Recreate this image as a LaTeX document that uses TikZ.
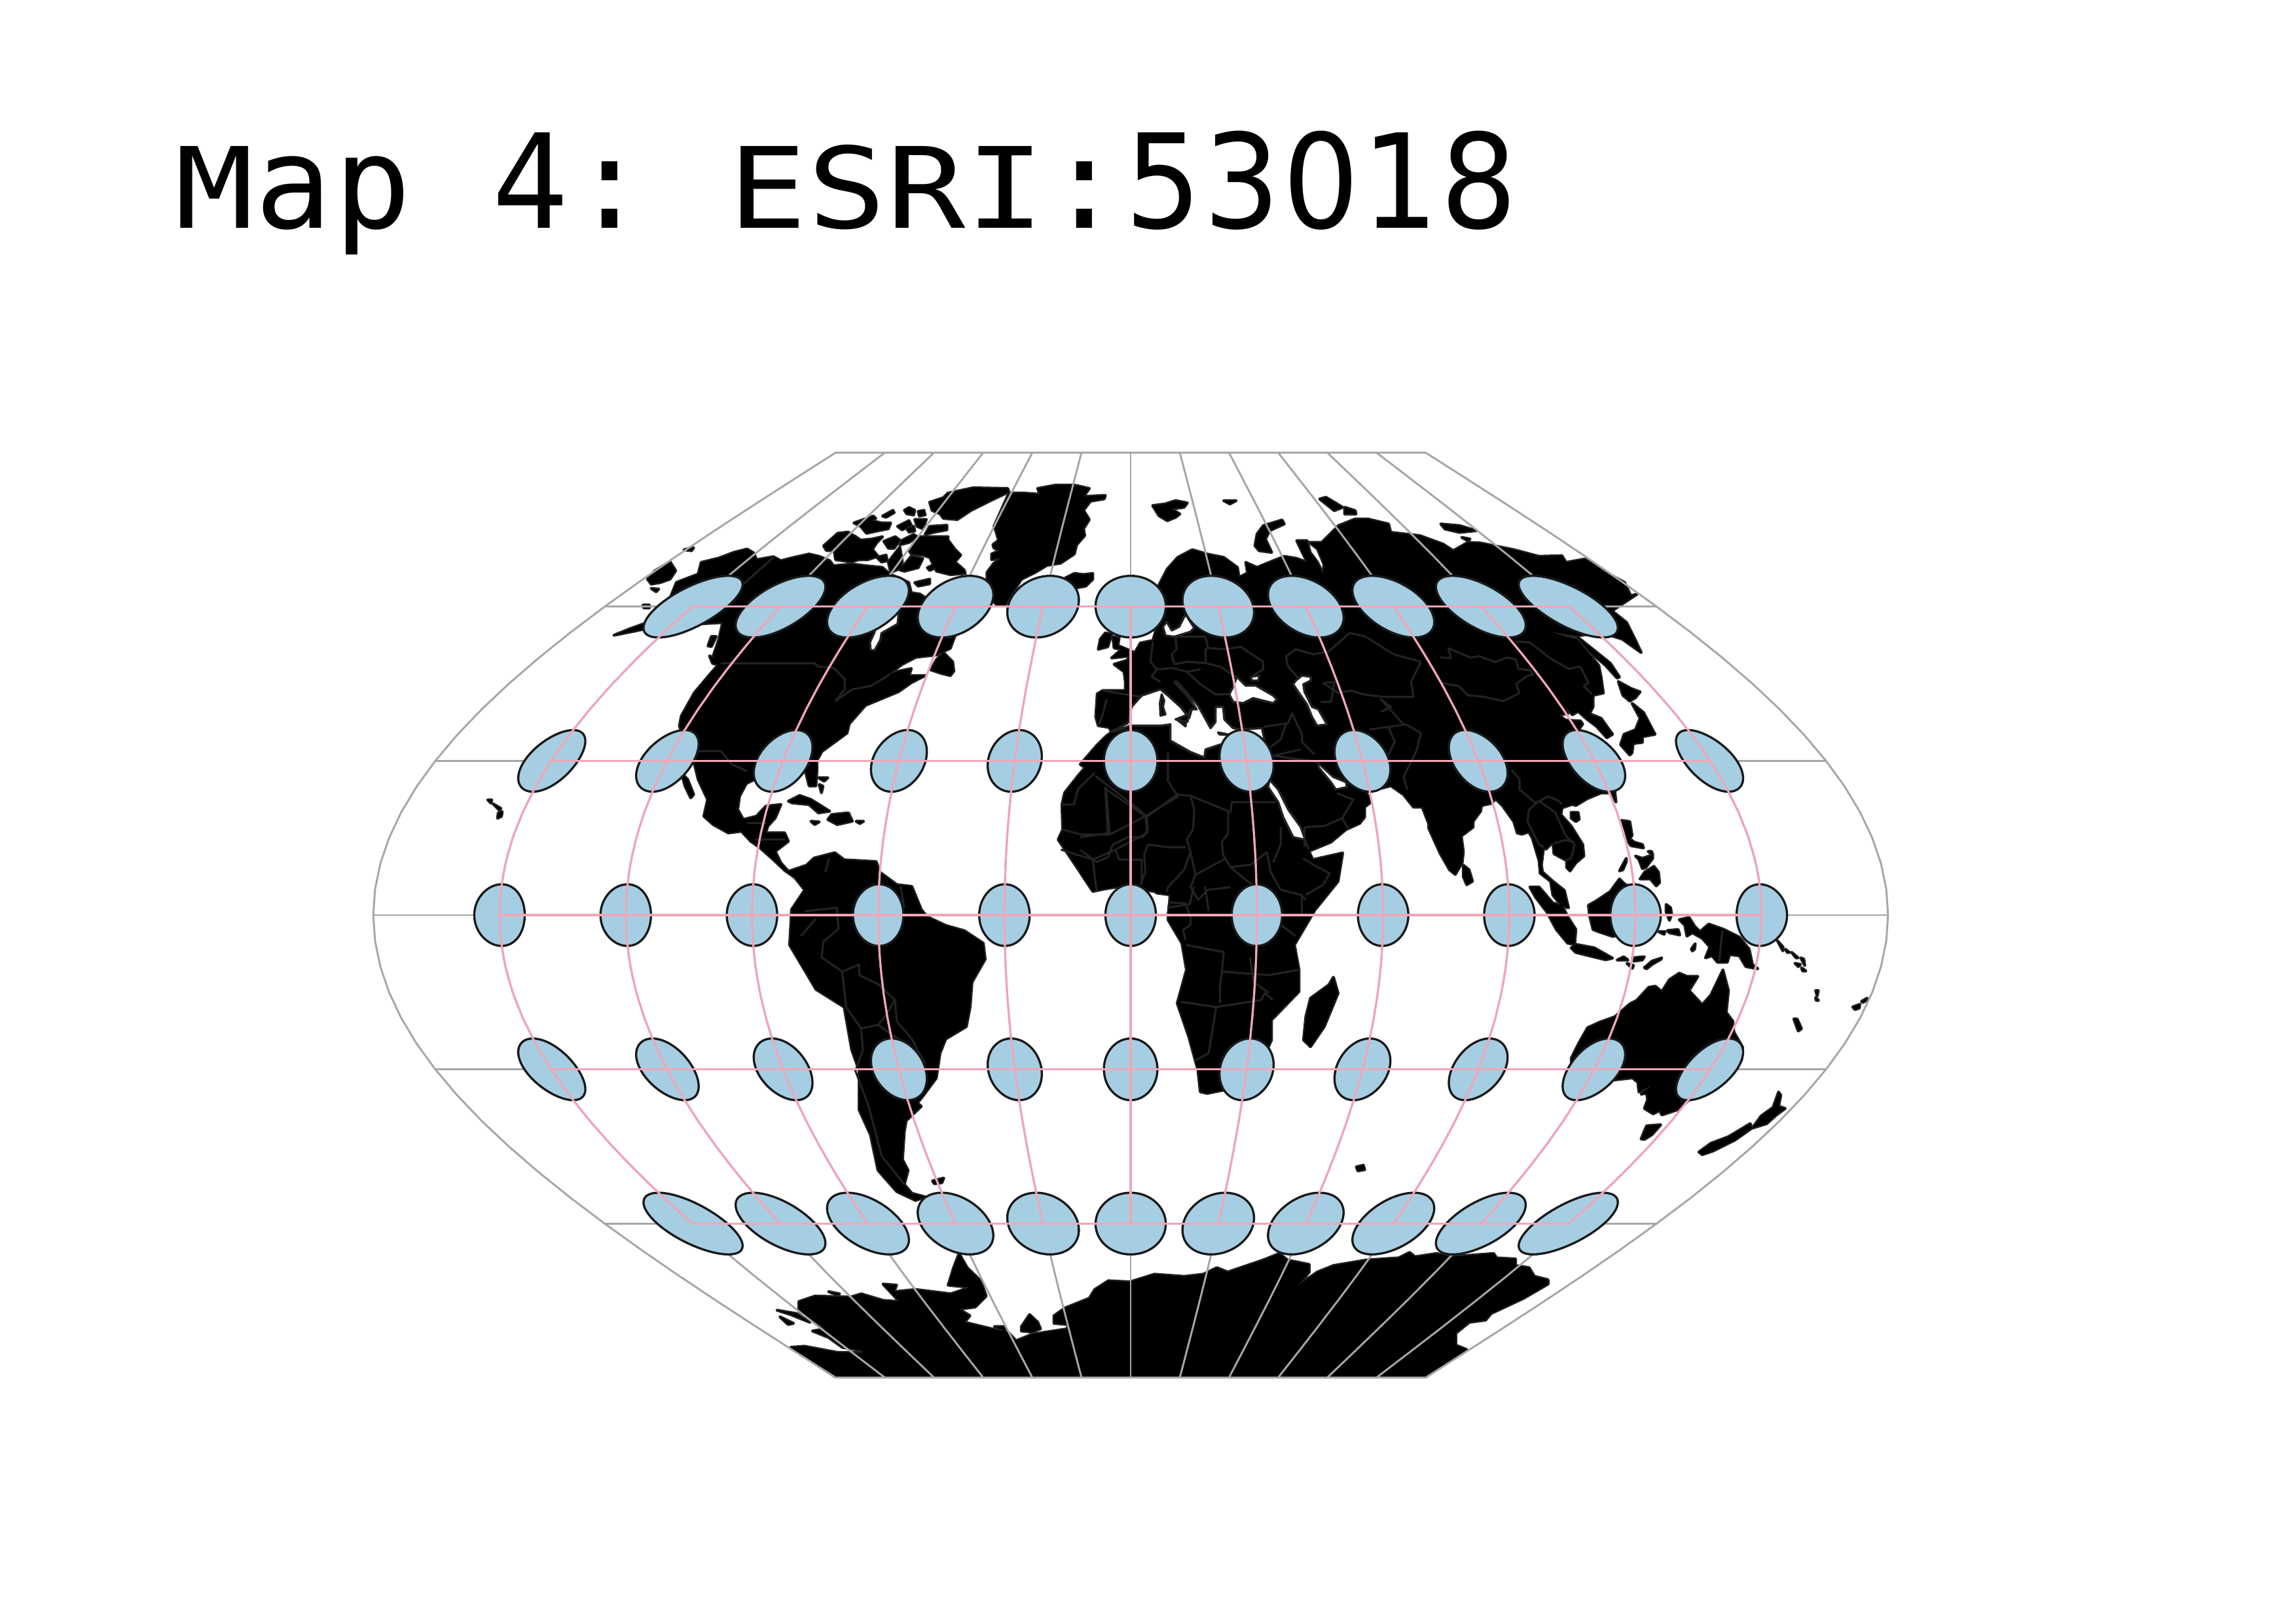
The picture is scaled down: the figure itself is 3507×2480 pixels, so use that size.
\documentclass[tikz,border=0pt]{standalone}
\usepackage{graphicx}
\usepackage{fontspec}
\newfontfamily\tmono{DejaVu Sans Mono}
\newfontfamily\tsans{DejaVu Sans}
\definecolor{edgec}{HTML}{222222}
\definecolor{grayg}{HTML}{A6A6A8}
\definecolor{pinkg}{HTML}{F0A6B6}
\definecolor{tissot}{HTML}{A6CEE3}
\newcommand{\ttcap}[1]{\makebox[28.97pt][c]{\scalebox{1}[0.857]{\fontsize{48}{48}\selectfont\tmono #1}}}
\newcommand{\ttlow}[1]{\makebox[28.97pt][c]{\fontsize{47}{47}\selectfont\tmono #1}}
\newcommand{\ttdig}[1]{\makebox[28.97pt][c]{\scalebox{0.92}[1]{\fontsize{48}{48}\selectfont\tsans #1}}}
\newcommand{\ttsp}{\hspace*{28.97pt}}
\newcommand{\lpoly}[1]{\path[lnd] plot coordinates {#1} -- cycle;}
\newcommand{\spoly}[1]{\path[seafill] plot coordinates {#1} -- cycle;}
\newcommand{\bline}[1]{\draw[bord] plot coordinates {#1};}
\tikzset{
 zA/.style={shift={(900,650)},xscale=.574,yscale=.5102},
 zB/.style={shift={(1700,650)},xscale=.6378,yscale=.5102},
 zC/.style={shift={(1100,1300)},xscale=.574,yscale=.542},
 zD/.style={shift={(1700,1150)},xscale=.7015,yscale=.5102},
 zE/.style={shift={(1100,1800)},xscale=.8292,yscale=.3333},
 zF/.style={shift={(2400,1300)},xscale=.3333,yscale=.3333},
 zH/.style={shift={(1650,900)},xscale=.3827,yscale=.3827},
 zI/.style={shift={(1150,720)},xscale=.3507,yscale=.3507},
 zJ/.style={shift={(2200,950)},xscale=.3507,yscale=.3507},
 seafill/.style={fill=white,draw=edgec,line width=.8pt,line join=round},
 islet/.style={fill=black,draw=edgec,line width=.8pt,line join=round},
 bord/.style={draw=edgec,line width=.75pt,line join=round},
 grayline/.style={draw=grayg,line width=.7pt,line join=round},
 pinkline/.style={draw=pinkg,line width=.75pt,line join=round},
 tis/.style={fill=tissot,draw=black!90,line width=.8pt,line join=round}
}
\newcommand{\landall}{%
\begin{scope}[zA]
\lpoly{(66,628) (110,608) (150,592) (200,560) (232,470) (290,445) (298,410) (345,397) (385,380) (420,370) (438,382) (445,402) (490,393) (510,405) (545,395) (585,385) (612,392) (640,405) (650,420) (700,415) (735,420) (780,425) (800,445) (850,470) (857,501) (880,505) (900,520) (1000,560) (970,639) (961,667) (924,687) (869,694) (833,715) (796,746) (826,735) (857,728) (851,749) (894,749) (857,770) (823,797) (778,818) (735,838) (692,893) (686,921) (619,976) (606,1003) (606,1031) (603,1079) (585,1079) (576,1038) (560,1040) (500,1040) (440,1060) (418,1072) (400,1110) (395,1150) (410,1180) (445,1170) (470,1140) (510,1135) (495,1175) (475,1200) (470,1220) (520,1220) (530,1245) (495,1275) (510,1310) (530,1335) (575,1318) (580,1335) (545,1352) (520,1332) (490,1300) (455,1265) (430,1245) (405,1215) (370,1220) (330,1195) (305,1170) (315,1120) (290,1060) (278,1005) (240,900) (245,870) (280,800) (325,740) (345,715) (330,690) (345,640) (355,590) (200,600) (145,610)}
\lpoly{(245,1040) (262,1060) (278,1105) (270,1115) (255,1080)}
\lpoly{(155,460) (175,435) (215,408) (230,435) (215,460) (190,470) (165,475)}
\lpoly{(165,488) (185,490) (178,498)}
\lpoly{(252,372) (278,366) (272,375)}
\lpoly{(143,538) (160,538) (160,546) (145,546)}
\lpoly{(320,690) (338,700) (345,718) (328,712)}
\lpoly{(316,660) (325,632) (338,632) (325,662)}
\lpoly{(530,1125) (560,1108) (590,1120) (640,1155) (610,1160) (585,1135) (540,1130)}
\lpoly{(645,1165) (690,1160) (700,1185) (660,1195) (635,1180)}
\lpoly{(590,1185) (612,1187) (600,1195)}
\lpoly{(710,1185) (730,1185) (720,1192)}
\lpoly{(610,1055) (635,1055) (625,1065)}
\lpoly{(612,1075) (622,1080) (618,1100)}
\lpoly{(1380,950) (1345,990) (1300,1050) (1265,1100) (1258,1135) (1260,1210) (1248,1240) (1290,1310) (1340,1395) (1370,1388) (1440,1375) (1490,1378) (1510,1400) (1545,1405) (1545,1420) (1540,1470) (1568,1470) (1568,900) (1440,900)}
\end{scope}
\begin{scope}[zI]
\lpoly{(308,325) (370,270) (415,265) (445,285) (440,300) (395,320) (345,345) (320,345)}
\lpoly{(355,350) (440,280) (470,300) (520,295) (565,285) (540,310) (520,340) (545,370) (500,385) (460,385) (430,395) (360,385)}
\lpoly{(440,225) (525,195) (535,205) (470,240)}
\lpoly{(470,240) (520,215) (560,225) (600,225) (590,250) (540,260) (495,270)}
\lpoly{(565,195) (610,170) (615,180) (580,200)}
\lpoly{(660,170) (680,158) (705,170) (700,190) (670,185)}
\lpoly{(720,175) (745,170) (750,190) (725,195)}
\lpoly{(630,240) (680,215) (690,235) (650,255)}
\lpoly{(670,250) (700,240) (705,260) (680,265)}
\lpoly{(705,210) (755,210) (740,250) (715,240)}
\lpoly{(770,240) (845,235) (845,255) (790,265) (750,275)}
\lpoly{(770,135) (830,115) (850,95) (960,72) (1110,75) (1115,90) (1040,125) (950,170) (890,210) (830,205) (815,185) (780,170)}
\lpoly{(570,305) (620,285) (640,300) (615,335) (590,335)}
\lpoly{(650,300) (700,275) (715,285) (680,310) (640,320)}
\lpoly{(680,345) (720,285) (790,285) (850,285) (850,300) (880,340) (905,365) (880,395) (920,430) (925,445) (860,450) (800,435) (770,375) (740,365) (690,360)}
\lpoly{(640,430) (690,370) (740,380) (720,420) (660,435)}
\lpoly{(760,420) (790,405) (795,420) (770,432)}
\lpoly{(540,375) (580,365) (585,390) (560,395)}
\lpoly{(590,395) (640,330) (650,390) (650,420) (600,440)}
\lpoly{(705,485) (770,470) (770,490) (720,500)}
\lpoly{(830,790) (870,830) (875,870) (860,890) (820,880) (775,865) (800,820)}
\lpoly{(1050,240) (1115,95) (1180,95) (1250,100) (1240,75) (1320,60) (1400,60) (1465,75) (1440,110) (1535,105) (1530,120) (1470,130) (1440,170) (1465,210) (1440,250) (1445,280) (1410,320) (1400,360) (1340,400) (1280,410) (1230,440) (1170,470) (1130,530) (1100,580) (1065,585) (1040,560) (1020,470) (1020,440) (1050,400) (1085,375) (1040,385) (1040,360) (1075,345) (1050,335) (1045,320) (1070,300) (1055,250)}
\lpoly{(1360,465) (1400,445) (1440,450) (1480,445) (1480,470) (1450,500) (1395,510) (1385,480)}
\end{scope}
\begin{scope}[zB]
\lpoly{(95,240) (125,235) (150,225) (178,232) (170,245) (140,250) (160,265) (150,275) (130,285) (110,270)}
\lpoly{(265,225) (295,225) (280,235)}
\lpoly{(340,360) (345,325) (360,300) (405,283) (410,295) (375,315) (365,340) (380,380) (350,375)}
\lpoly{(495,220) (510,215) (550,245) (530,255)}
\lpoly{(555,245) (580,255) (582,265) (555,265)}
\lpoly{(785,295) (830,300) (870,315) (830,320) (795,310)}
\lpoly{(835,335) (855,340) (850,345)}
\lpoly{(105,490) (130,430) (155,395) (190,372) (225,385) (265,395) (298,425) (302,455) (340,430) (322,440) (318,410) (345,425) (370,412) (410,392) (440,398) (465,410) (440,345) (465,345) (472,380) (490,410) (503,445) (505,415) (490,370) (470,350) (500,350) (520,325) (540,300) (580,280) (610,280) (660,295) (665,320) (735,330) (790,355) (815,375) (850,350) (880,352) (960,372) (1020,392) (1075,390) (1085,410) (1130,400) (1180,440) (1225,470) (1240,510) (1255,505) (1225,530) (1195,555) (1230,590) (1250,640) (1265,680) (1220,640) (1170,620) (1110,630) (1052,618) (1052,800) (500,800) (120,620)}
\end{scope}
\begin{scope}[zJ]
\lpoly{(400,0) (490,0) (488,45) (545,65) (595,75) (640,130) (690,190) (700,240) (710,310) (665,320) (665,370) (650,400) (700,420) (750,490) (725,505) (680,455) (640,425) (600,390) (575,405) (545,370) (555,400) (515,405) (545,428) (610,432) (620,445) (595,480) (760,740) (765,785) (745,745) (700,745) (640,770) (590,800) (575,795) (530,810) (525,840) (570,890) (620,970) (625,1020) (590,1050) (565,1085) (550,1070) (550,1040) (495,1010) (490,960) (460,990) (450,980) (440,1060) (445,1090) (490,1130) (540,1170) (558,1245) (530,1240) (490,1190) (480,1130) (435,1095) (430,1040) (400,940) (385,915) (355,925) (335,920) (320,870) (270,800) (240,770) (225,790) (180,800) (175,825) (120,900) (90,925) (100,1000) (95,1050) (65,1100) (40,1080) (0,1010) (-50,900) (-50,0)}
\lpoly{(590,60) (640,100) (740,180) (780,240) (770,245) (720,190) (650,130)}
\lpoly{(775,260) (830,290) (870,305) (850,330) (825,345) (795,320)}
\lpoly{(835,355) (885,395) (935,490) (880,500) (880,525) (840,530) (835,570) (825,580) (785,535) (800,490) (850,470) (870,420)}
\lpoly{(570,830) (600,830) (605,860) (590,870) (570,855)}
\lpoly{(645,1235) (680,1215) (740,1175) (780,1120) (800,1140) (900,1200) (900,1350) (750,1370) (690,1350) (665,1340) (650,1280)}
\lpoly{(390,1155) (430,1155) (490,1225) (530,1235) (555,1285) (590,1340) (585,1405) (555,1400) (505,1340) (465,1265) (415,1200)}
\lpoly{(570,1420) (590,1405) (670,1420) (750,1465) (720,1472) (650,1455) (590,1440)}
\lpoly{(790,865) (825,870) (835,930) (825,945) (845,960) (880,970) (885,985) (830,975) (805,940)}
\lpoly{(850,1020) (880,1030) (925,1015) (925,1030) (895,1070) (880,1075) (865,1035)}
\lpoly{(905,1000) (920,1000) (925,1015)}
\lpoly{(780,1085) (810,1030) (810,1045) (795,1080)}
\lpoly{(870,1120) (890,1090) (930,1065) (950,1090) (955,1135) (940,1150) (915,1120) (880,1120)}
\lpoly{(100,1060) (125,1080) (140,1130) (115,1145) (100,1110)}
\end{scope}
\begin{scope}[zH]
\lpoly{(300,170) (290,205) (240,215) (220,250) (185,285) (135,300) (175,330) (180,370) (180,405) (90,405) (68,418) (62,510) (72,545) (115,552) (125,570) (100,590) (65,625) (0,700) (500,1000) (915,1045) (1000,1010) (1060,960) (1115,935) (1135,910) (1135,870) (1160,850) (1140,810) (1240,785) (1290,820) (1330,870) (1365,870) (1400,960) (1440,1050) (1495,1135) (1520,1080) (1515,990) (1568,950) (1568,0) (340,0) (330,110)}
\lpoly{(130,190) (155,195) (150,225) (210,250) (215,265) (125,275) (165,240) (135,235)}
\lpoly{(100,175) (125,180) (110,230) (72,240) (80,200)}
\end{scope}
\begin{scope}[zD]
\lpoly{(0,400) (90,415) (125,425) (120,500) (150,570) (160,650) (140,750) (165,850) (185,950) (190,1015) (205,1020) (240,1010) (300,1000) (345,860) (345,800) (405,715) (405,650) (395,575) (440,470) (490,385) (500,300) (435,320) (425,290) (400,250) (380,220) (345,90) (345,0) (0,0)}
\lpoly{(480,672) (490,720) (460,820) (430,880) (415,860) (420,790) (430,735) (470,695)}
\lpoly{(530,1240) (545,1235) (548,1248) (533,1252)}
\end{scope}
\begin{scope}[zC]
\lpoly{(195,70) (225,45) (250,20) (305,5) (330,25) (415,30) (425,60) (470,95) (510,100) (535,165) (550,185) (600,210) (650,225) (700,260) (705,305) (670,370) (665,440) (655,495) (600,530) (585,570) (575,640) (540,690) (525,710) (535,720) (495,760) (490,790) (485,870) (500,900) (490,940) (510,965) (545,975) (520,985) (470,960) (420,900) (410,850) (400,800) (370,730) (370,620) (350,560) (330,440) (255,390) (185,265) (190,165) (225,110)}
\lpoly{(565,930) (595,922) (590,935) (570,938)}
\end{scope}
\begin{scope}[zE]
\lpoly{(130,775) (155,770) (215,798) (262,800) (262,790) (225,775) (200,730) (170,700) (195,690) (145,610) (145,565) (175,540) (240,545) (260,530) (300,560) (330,565) (300,485) (325,490) (320,520) (360,510) (425,530) (460,500) (420,490) (430,410) (440,345) (455,410) (480,470) (490,540) (470,590) (440,600) (460,630) (450,660) (500,690) (530,705) (545,745) (575,715) (640,690) (640,670) (615,665) (615,630) (635,595) (680,550) (690,510) (715,470) (755,475) (800,440) (855,450) (890,440) (915,410) (935,430) (1000,375) (1030,345) (1045,375) (1085,395) (1085,430) (1065,490) (1100,430) (1130,400) (1190,375) (1250,365) (1270,340) (1280,360) (1320,345) (1345,360) (1425,345) (1430,365) (1465,370) (1465,400) (1490,410) (1500,450) (1525,465) (1525,485) (1480,550) (1420,620) (1410,650) (1380,660) (1355,710) (1355,765) (1375,785) (1300,910) (212,910)}
\lpoly{(555,680) (570,625) (585,660) (590,690) (575,705) (555,700)}
\lpoly{(505,680) (525,680) (525,700)}
\lpoly{(105,605) (140,620) (165,660) (130,625)}
\lpoly{(110,635) (135,665) (125,670)}
\lpoly{(200,520) (220,530) (215,535)}
\end{scope}
\begin{scope}[zF]
\lpoly{(830,1270) (870,1215) (925,1175) (950,1105) (960,1120) (950,1170) (980,1180) (940,1210) (895,1250)}
\lpoly{(585,1380) (640,1340) (720,1310) (820,1250) (828,1270) (750,1325) (650,1375) (600,1392)}
\lpoly{(320,1320) (345,1260) (410,1255) (370,1300) (335,1322)}
\lpoly{(495,315) (540,305) (565,345) (590,370) (630,335) (700,360) (770,395) (815,450) (830,520) (855,540) (800,530) (770,480) (725,475) (715,510) (670,510) (645,480) (615,490) (635,440) (600,400) (555,375) (530,390) (520,340)}
\lpoly{(35,880) (75,810) (130,785) (200,760) (270,700) (300,685) (355,625) (385,620) (415,645) (450,590) (495,560) (530,575) (580,575) (540,640) (600,705) (640,660) (695,545) (720,640) (710,740) (740,780) (745,830) (785,900) (780,960) (680,1050) (540,1140) (490,1185) (415,1210) (405,1190) (375,1205) (335,1180) (350,1140) (345,1110) (320,1115) (375,1070) (310,1105) (305,1060) (280,1040) (190,1050) (100,1100) (0,1130) (0,950)}
\lpoly{(210,500) (240,485) (260,500)}
\lpoly{(280,490) (335,485) (325,500) (285,505)}
\lpoly{(255,515) (285,525) (280,538)}
\lpoly{(335,535) (370,505) (415,490) (410,497) (370,520) (345,540)}
\lpoly{(400,370) (430,370) (425,382)}
\lpoly{(440,365) (490,360) (497,385) (450,375)}
\lpoly{(435,245) (455,260) (460,290) (450,318) (435,280)}
\lpoly{(550,450) (568,425) (565,450) (555,458)}
\lpoly{(945,412) (970,440) (970,458)}
\lpoly{(980,450) (1000,465) (990,465)}
\lpoly{(1010,465) (1040,490) (1030,490)}
\lpoly{(1052,490) (1065,495) (1070,525)}
\lpoly{(1025,515) (1050,520) (1040,530)}
\lpoly{(1055,535) (1075,550) (1060,550)}
\lpoly{(1120,640) (1132,640) (1127,665)}
\lpoly{(1120,672) (1133,685) (1122,685)}
\lpoly{(1020,770) (1035,770) (1055,815) (1040,825)}
\lpoly{(1290,715) (1322,703) (1320,720) (1300,727)}
\lpoly{(1330,690) (1355,675) (1360,680) (1335,695)}
\end{scope}
\lpoly{(745,1222) (751,1222) (750,1227)}
\lpoly{(753,1228) (765,1235) (763,1238)}
\lpoly{(761,1242) (767,1240) (766,1247) (760,1250)}
}
\begin{document}
\begin{tikzpicture}[x=0.24pt,y=-0.24pt,
 declare function={
  wlat(\p,\t)=asin(sin(\p)*cos(6)+cos(\p)*sin(6)*cos(\t));
  wlon(\l,\p,\t)=\l+atan2(sin(\t)*sin(6)*cos(\p),cos(6)-sin(\p)*sin(wlat(\p,\t)));
  winx(\l,\f)=450*(\l/57.29578)*(0.63662+cos(\f))/2;
  winy(\f)=1398-450*(\f/57.29578);
 }]
\useasboundingbox (0,0) rectangle (3507,2480);
\node[anchor=base west,inner sep=0pt] (title) at (267,348) {\ttcap{M}\ttlow{a}\ttlow{p}\ttsp\ttdig{4}\ttlow{:}\ttsp\ttcap{E}\ttcap{S}\ttcap{R}\ttcap{I}\ttlow{:}\ttdig{5}\ttdig{3}\ttdig{0}\ttdig{1}\ttdig{8}};
% land: outline pass, then fill pass
\tikzset{lnd/.style={draw=edgec,line width=1.1pt,line join=round}}
\landall
\tikzset{lnd/.style={fill=black}}
\landall
% seas
\begin{scope}[zH]
\spoly{(345,130) (330,150) (340,185) (375,190) (440,170) (455,155) (420,100) (395,150) (365,165)}
\spoly{(625,350) (660,385) (700,385) (770,425) (785,440) (770,455) (690,435) (650,455) (610,450) (595,420) (610,390)}
\spoly{(680,350) (715,345) (710,365) (685,365)}
\spoly{(885,345) (920,350) (920,365) (890,380) (895,410) (925,470) (950,480) (985,540) (945,545) (925,510) (905,460) (870,410) (850,380) (860,365)}
\spoly{(125,568) (190,535) (205,470) (245,425) (320,400) (350,425) (400,470) (435,515) (445,480) (465,480) (430,430) (375,370) (385,368) (470,465) (520,555) (540,530) (540,470) (570,470) (575,520) (610,555) (640,560) (725,555) (735,600) (650,640) (560,620) (500,640) (495,672) (440,650) (360,605) (360,540) (320,545) (200,545) (130,570)}
\spoly{(755,760) (790,800) (830,880) (880,950) (910,1035) (895,1000) (850,990) (810,910) (790,850) (750,790)}
\spoly{(950,695) (1010,750) (1060,770) (1065,790) (1020,800) (1000,770) (975,740) (950,710)}
\path[islet] plot coordinates {(325,420) (335,445) (330,470) (340,500) (320,505) (318,455)} -- cycle;
\path[islet] plot coordinates {(385,520) (425,515) (420,548)} -- cycle;
\path[islet] plot coordinates {(550,572) (600,582) (555,580)} -- cycle;
\path[islet] plot coordinates {(380,520) (430,500) (440,480) (428,530)} -- cycle;
\end{scope}
\begin{scope}[zI]
\spoly{(635,620) (630,665) (560,705) (555,735) (530,780) (512,778) (510,745) (530,700) (540,660) (600,600)}
\end{scope}
% borders
\begin{scope}[zA]
\bline{(350,712) (600,712) (610,722) (650,725) (680,760) (680,790) (655,825) (700,790) (750,780) (800,745)}
\bline{(410,475) (490,395)}
\bline{(290,975) (350,975) (380,1015) (420,1035)}
\bline{(1345,1040) (1300,1090) (1290,1135) (1258,1135)}
\bline{(1375,1085) (1385,1225) (1310,1225) (1260,1210)}
\bline{(1370,1085) (1480,1170) (1568,1110)}
\bline{(1385,1225) (1480,1170) (1485,1220) (1400,1270) (1340,1300) (1255,1270)}
\bline{(1340,1300) (1350,1395)}
\bline{(1400,1270) (1410,1300) (1470,1300) (1470,1370)}
\bline{(420,1190) (470,1190)}
\bline{(440,1240) (520,1240)}
\end{scope}
\begin{scope}[zH]
\bline{(290,210) (280,290) (305,320) (285,350) (320,370)}
\bline{(380,190) (385,240) (365,260) (375,300) (425,290) (500,295) (500,240) (510,235) (580,240) (640,230) (730,290) (730,320) (690,345)}
\bline{(90,405) (180,420) (245,430)}
\bline{(105,440) (90,500) (75,540)}
\bline{(305,320) (370,315) (425,330) (480,320)}
\bline{(425,330) (480,380) (540,420) (600,420)}
\bline{(500,295) (560,310) (620,350)}
\bline{(380,190) (500,190) (510,235)}
\bline{(100,790) (110,975) (0,990)}
\bline{(60,745) (235,880) (265,910) (385,820) (440,825) (600,890) (605,850) (780,850)}
\bline{(385,820) (350,765) (350,650)}
\bline{(440,825) (455,880) (450,960) (425,1000) (440,1050) (415,1120) (350,1190) (345,1210)}
\bline{(590,890) (590,975) (565,1010) (570,1060) (600,1110) (660,1160) (700,1190)}
\bline{(265,910) (270,960) (250,990) (190,990) (130,1020) (110,1070) (65,1090) (0,1040)}
\bline{(420,1030) (350,1030) (270,1020) (255,1060) (260,1130) (240,1180)}
\bline{(440,1050) (460,1140) (440,1190) (470,1240) (510,1200) (600,1190)}
\bline{(460,1140) (580,1075)}
\bline{(600,1110) (680,1100) (745,1050) (760,1130) (800,1200) (880,1220) (900,1240)}
\bline{(800,950) (800,1020) (770,1090)}
\bline{(900,1220) (970,1180) (995,1135) (930,1100) (890,1075)}
\bline{(895,950) (975,945) (1045,915) (1090,840) (1025,815)}
\bline{(1045,915) (1070,955)}
\bline{(895,950) (895,1030)}
\bline{(880,640) (770,665) (950,690)}
\bline{(845,495) (885,580) (885,610) (935,660)}
\bline{(730,550) (830,535) (845,495)}
\bline{(820,540) (800,600) (760,630)}
\bline{(1155,560) (1230,550) (1255,610) (1230,660)}
\bline{(1230,550) (1300,540) (1360,575) (1340,650) (1290,750) (1305,800)}
\bline{(820,270) (860,240) (930,260) (990,250) (1075,175) (1140,190) (1250,260) (1360,290)}
\bline{(1360,290) (1320,370) (1330,430) (1210,430) (1130,420) (1080,405) (1030,415) (970,375) (1015,370) (1000,450) (960,450)}
\bline{(820,270) (830,310) (870,355)}
\bline{(1290,540) (1200,440) (1240,470) (1200,490)}
\bline{(355,1250) (420,1255) (440,1310) (440,1340) (410,1360) (420,1400)}
\bline{(885,1300) (885,1220)}
\bline{(800,1340) (860,1385)}
\end{scope}
\begin{scope}[zJ]
\bline{(0,155) (45,158) (35,115) (130,155) (170,150) (240,175) (290,155) (330,165) (340,205) (390,210) (405,230) (380,235) (330,270) (345,310) (275,345) (180,325) (120,320) (80,280) (0,265)}
\bline{(330,85) (390,90) (480,160) (560,205) (610,195) (645,265) (625,280) (660,315)}
\bline{(310,645) (345,685) (345,730) (415,790) (470,760) (515,780) (530,795)}
\bline{(430,780) (385,820) (380,870) (430,970) (450,980)}
\bline{(430,780) (500,830) (545,930) (585,970) (570,1030) (545,1040)}
\bline{(495,965) (545,950) (585,960)}
\end{scope}
\begin{scope}[zC]
\bline{(280,60) (290,20)}
\bline{(225,170) (310,160) (315,220) (275,255) (270,300) (325,340) (370,320) (370,350) (420,375) (465,420) (470,480) (510,530) (545,600)}
\bline{(255,190) (215,240)}
\bline{(325,340) (335,440) (375,500) (420,490) (440,465) (465,420)}
\bline{(375,500) (380,560) (360,620) (395,720) (430,860) (490,940)}
\bline{(420,490) (500,550)}
\bline{(480,100) (490,160)}
\bline{(1225,425) (1320,440) (1440,420) (1450,400) (1470,420)}
\bline{(1320,440) (1300,570) (1265,590)}
\bline{(1240,265) (1340,285) (1335,340) (1460,350) (1540,335)}
\bline{(1335,340) (1330,380) (1330,430)}
\bline{(1410,300) (1420,370) (1460,400)}
\bline{(1190,160) (1250,150) (1260,100)}
\bline{(1300,170) (1290,100)}
\end{scope}
\begin{scope}[zF]
\bline{(692,365) (678,505)}
\end{scope}
% gray graticule
\foreach \mm in {-180,-150,...,180}{
 \draw[grayline] plot[domain=-90:90,samples=37,variable=\f] ({1727+winx(\mm,\f)},{winy(\f)});
}
\foreach \f in {90,60,30,0,-30,-60,-90}{
 \draw[grayline] ({1727-winx(180,\f)},{winy(\f)}) -- ({1727+winx(180,\f)},{winy(\f)});
}
% indicatrices
\foreach \pp in {60,30,0,-30,-60}{
 \foreach \ll in {-150,-120,...,150}{
  \path[tis] plot[domain=0:355,samples=72,variable=\t] ({1727+winx(wlon(\ll,\pp,\t),wlat(\pp,\t))},{winy(wlat(\pp,\t))}) -- cycle;
 }
}
% pink graticule
\foreach \mm in {-150,-120,...,150}{
 \draw[pinkline] plot[domain=-60:60,samples=31,variable=\f] ({1727+winx(\mm,\f)},{winy(\f)});
}
\foreach \f in {60,30,0,-30,-60}{
 \draw[pinkline] ({1727-winx(150,\f)},{winy(\f)}) -- ({1727+winx(150,\f)},{winy(\f)});
}
\end{tikzpicture}
\end{document}
